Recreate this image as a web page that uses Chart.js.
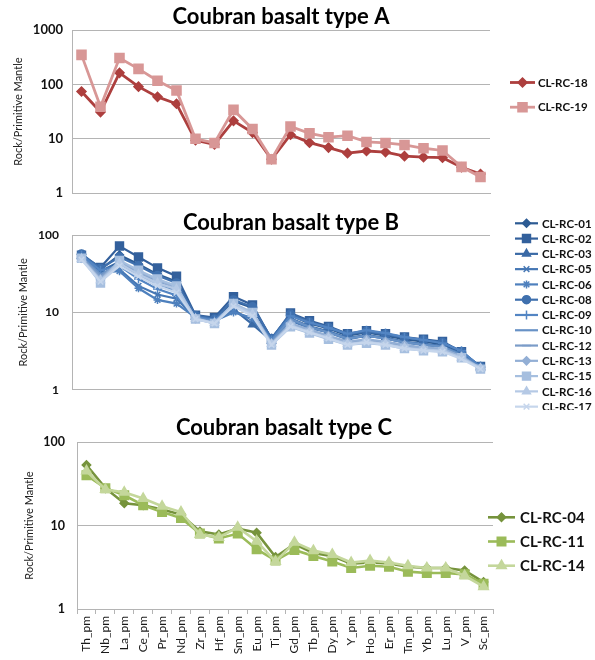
<!DOCTYPE html>
<html>
<head>
<meta charset="utf-8">
<script src="https://cdn.jsdelivr.net/npm/chart.js@4/dist/chart.umd.min.js"></script>
<style>
  html, body { margin: 0; padding: 0; background: #ffffff; }
  #wrap { position: relative; width: 595px; height: 660px; overflow: hidden; background: #ffffff; }
  canvas { position: absolute; left: 0; }
</style>
</head>
<body>
<div id="wrap">
  <canvas id="chartA" width="595" height="210" style="top:0px;width:595px;height:210px"></canvas>
  <canvas id="chartB" width="595" height="200" style="top:210px;width:595px;height:200px"></canvas>
  <canvas id="chartC" width="595" height="250" style="top:410px;width:595px;height:250px"></canvas>
</div>
<script>
// Primitive-mantle normalised trace elements (x axis categories)
const elements = ['Th_pm','Nb_pm','La_pm','Ce_pm','Pr_pm','Nd_pm','Zr_pm','Hf_pm','Sm_pm','Eu_pm','Ti_pm',
                  'Gd_pm','Tb_pm','Dy_pm','Y_pm','Ho_pm','Er_pm','Tm_pm','Yb_pm','Lu_pm','V_pm','Sc_pm'];

// Decade ticks for the log axes
const ticksA = [1, 10, 100, 1000];
const ticksBC = [1, 10, 100];

// Type A samples
const rc18 = [74, 31, 163, 91, 59, 44, 9.4, 7.9, 21.4, 13, 4.2, 11.9, 8.5, 6.9, 5.45, 5.97, 5.7, 4.8, 4.6, 4.5, 3.0, 2.25];
const rc19 = [349, 38.7, 306, 193, 117, 77, 10, 8.4, 34, 15.2, 4.2, 16.9, 12.6, 10.7, 11.4, 8.75, 8.4, 7.7, 6.7, 6.1, 3.05, 1.98];

// Type B samples
const rc01 = [56, 36, 55, 42, 31, 25, 9.0, 8.3, 14, 11.5, 4.6, 9.2, 7.2, 6.2, 5.0, 5.5, 5.0, 4.5, 4.2, 3.9, 3.0, 1.95];
const rc02 = [55, 38, 72, 52, 37.6, 29.4, 9.2, 8.6, 16, 12.5, 4.5, 9.8, 7.8, 6.6, 5.3, 5.8, 5.3, 4.8, 4.5, 4.2, 3.1, 2.0];
const rc03 = [54, 34, 45, 34, 25, 20, 8.8, 7.9, 11, 7.0, 4.3, 8.4, 6.6, 5.7, 4.7, 5.1, 4.7, 4.2, 3.9, 3.7, 2.9, 1.95];
const rc05 = [52, 32, 36, 22, 17, 15, 8.5, 7.7, 10.5, 8.0, 4.2, 7.8, 6.3, 5.5, 4.5, 5.0, 4.6, 4.1, 3.8, 3.6, 2.8, 1.9];
const rc06 = [53, 33, 34, 20.5, 14.5, 13, 8.6, 7.8, 10, 8.5, 4.3, 8.0, 6.4, 5.6, 4.6, 5.0, 4.6, 4.1, 3.9, 3.6, 2.9, 1.95];
const rc08 = [57, 37, 52, 40, 30, 24, 9.1, 8.2, 14.5, 11.8, 4.6, 9.5, 7.5, 6.4, 5.2, 5.7, 5.2, 4.7, 4.4, 4.1, 3.1, 2.0];
const rc09 = [55, 35, 40, 27, 20, 16.5, 8.7, 8.0, 12, 9.5, 4.4, 9.0, 7.4, 6.3, 5.3, 5.9, 5.4, 4.8, 4.4, 4.0, 3.2, 1.95];
const rc10 = [52, 31, 42, 30, 22, 19, 8.6, 7.6, 12.5, 9.5, 4.2, 8.2, 6.5, 5.5, 4.6, 5.0, 4.6, 4.1, 3.8, 3.6, 2.8, 1.9];
const rc12 = [51, 29, 44, 33, 24, 20, 8.4, 7.4, 12, 9.2, 4.0, 7.0, 5.8, 4.8, 4.1, 4.4, 4.1, 3.7, 3.4, 3.3, 2.7, 1.9];
const rc13 = [50, 27, 46, 34, 26, 21, 8.3, 7.3, 13, 9.8, 4.0, 7.2, 6.0, 5.0, 4.2, 4.5, 4.2, 3.8, 3.5, 3.4, 2.7, 1.9];
const rc15 = [50, 24, 47, 35, 27, 22, 8.2, 7.2, 13, 10, 3.8, 6.5, 5.4, 4.5, 3.8, 4.0, 3.8, 3.4, 3.2, 3.1, 2.6, 1.85];
const rc16 = [49, 26, 43, 31, 24, 20, 8.3, 7.3, 12.5, 9.5, 3.9, 6.8, 5.6, 4.7, 3.9, 4.2, 3.9, 3.5, 3.3, 3.2, 2.6, 1.9];
const rc17 = [48, 25, 40, 29, 22, 18, 8.2, 7.2, 12, 9.0, 3.8, 6.6, 5.5, 4.6, 3.8, 4.1, 3.8, 3.4, 3.2, 3.1, 2.5, 1.85];

// Type C samples
const rc04 = [53, 28, 18.5, 17.5, 15.5, 13.5, 8.5, 7.8, 9.2, 8.2, 4.2, 6.0, 4.7, 4.3, 3.5, 3.6, 3.5, 3.2, 3.1, 3.1, 2.9, 2.1];
const rc11 = [40, 28, 23, 17.5, 14.5, 12.3, 8.0, 7.0, 8.0, 5.2, 3.8, 5.1, 4.3, 3.7, 3.1, 3.3, 3.2, 2.8, 2.7, 2.7, 2.6, 2.0];
const rc14 = [45, 27, 25, 21, 17, 14.5, 7.8, 7.2, 9.5, 6.5, 3.7, 6.3, 5.0, 4.5, 3.6, 3.8, 3.6, 3.3, 3.1, 3.1, 2.5, 1.85];

const FONT = "Lato, 'Liberation Sans', sans-serif";
const GRID = '#b4b4b4';

// Title and legend (line + marker + label) drawn at fixed spots beside each panel
const panelDecor = {
  id: 'panelDecor',
  afterDraw(chart, args, o) {
    const ctx = chart.ctx;
    ctx.save();
    ctx.fillStyle = '#000';
    ctx.font = `bold ${o.titleSize}px ${FONT}`;
    ctx.textAlign = 'center';
    ctx.textBaseline = 'middle';
    ctx.fillText(o.title, o.titleX, o.titleY);

    chart.data.datasets.forEach((ds, i) => {
      const y = o.legendY + i * o.legendGap;
      ctx.strokeStyle = ds.borderColor;
      ctx.lineWidth = ds.borderWidth;
      ctx.beginPath();
      ctx.moveTo(o.lineX0, y);
      ctx.lineTo(o.lineX1, y);
      ctx.stroke();
      if (ds.pointStyle && ds.pointRadius > 0) {
        ctx.fillStyle = ds.pointBackgroundColor;
        ctx.strokeStyle = ds.pointBorderColor;
        ctx.lineWidth = ds.pointBorderWidth;
        Chart.helpers.drawPoint(ctx, {
          pointStyle: ds.pointStyle, radius: ds.pointRadius, rotation: 0, borderWidth: ds.pointBorderWidth
        }, (o.lineX0 + o.lineX1) / 2, y);
      }
      ctx.fillStyle = '#111';
      ctx.font = `bold ${o.legendSize}px ${FONT}`;
      ctx.textAlign = 'left';
      ctx.textBaseline = 'middle';
      ctx.fillText(ds.label, o.textX, y + 0.5);
    });
    ctx.restore();
  }
};

function series(label, data, color, style, radius, width) {
  return {
    label, data,
    borderColor: color, backgroundColor: color,
    pointBackgroundColor: color, pointBorderColor: color,
    pointStyle: style, pointRadius: style ? radius : 0,
    pointBorderWidth: 1.5, pointHoverRadius: radius,
    borderWidth: width, tension: 0
  };
}

function makeChart(id, datasets, c) {
  // later samples sit on top of earlier ones
  datasets.forEach((d, i) => { d.order = datasets.length - i; });
  return new Chart(document.getElementById(id), {
    type: 'line',
    data: { labels: elements, datasets },
    plugins: [panelDecor],
    options: {
      responsive: false,
      animation: false,
      devicePixelRatio: 1,
      layout: { padding: { top: c.top, right: c.right, bottom: 0, left: 0 } },
      plugins: {
        legend: { display: false },
        tooltip: { enabled: false },
        panelDecor: c.decor
      },
      scales: {
        x: {
          offset: true,
          afterFit: s => { s.height = c.xHeight; },
          grid: { display: c.xLabels, drawOnChartArea: false, offset: true, tickLength: 5, color: GRID },
          border: { display: true, color: GRID },
          ticks: {
            display: c.xLabels, autoSkip: false, minRotation: 90, maxRotation: 90, padding: 2,
            color: '#1a1a1a', font: { family: FONT, size: 12 }
          }
        },
        y: {
          type: 'logarithmic',
          min: 1, max: c.yTicks[c.yTicks.length - 1],
          afterBuildTicks: s => { s.ticks = c.yTicks.map(v => ({ value: v })); },
          afterFit: s => { s.width = c.left; },
          grid: { color: GRID, lineWidth: 1, drawTicks: false },
          border: { display: true, color: GRID },
          ticks: {
            padding: c.tickPad, color: '#111',
            font: { family: FONT, size: c.tickSize, weight: 'bold' },
            callback: v => String(v)
          },
          title: {
            display: true, text: 'Rock/Primitive Mantle', color: '#222',
            font: { family: FONT, size: 11 },
            padding: { top: c.yTitlePad, bottom: 0 }
          }
        }
      }
    }
  });
}

makeChart('chartA', [
  series('CL-RC-18', rc18, '#ad3f3e', 'rectRot', 4.5, 2.8),
  series('CL-RC-19', rc19, '#d89796', 'rect', 6.4, 2.8)
], {
  top: 30, right: 105, left: 72, xHeight: 5, xLabels: false,
  yTicks: ticksA, tickPad: 9, tickSize: 13, yTitlePad: 11.5,
  decor: { title: 'Coubran basalt type A', titleSize: 22, titleX: 281, titleY: 17,
           legendY: 82.5, legendGap: 24.7, lineX0: 510, lineX1: 535, textX: 538, legendSize: 11.5 }
});

makeChart('chartB', [
  series('CL-RC-01', rc01, '#2c5b93', 'rectRot', 4, 2.2),
  series('CL-RC-02', rc02, '#33609c', 'rect', 5.6, 2.2),
  series('CL-RC-03', rc03, '#3a6aa6', 'triangle', 4.5, 2.2),
  series('CL-RC-05', rc05, '#4677b4', 'crossRot', 4, 2.2),
  series('CL-RC-06', rc06, '#4e80bd', 'star', 4, 2.2),
  series('CL-RC-08', rc08, '#3f70ae', 'circle', 4, 2.2),
  series('CL-RC-09', rc09, '#5385c3', 'cross', 4.5, 2.2),
  series('CL-RC-10', rc10, '#6892c6', false, 0, 2.2),
  series('CL-RC-12', rc12, '#7b9cc8', 'line', 4.5, 2.2),
  series('CL-RC-13', rc13, '#93afd5', 'rectRot', 4, 2.2),
  series('CL-RC-15', rc15, '#a6bfdf', 'rect', 5.6, 2.2),
  series('CL-RC-16', rc16, '#b5c9e5', 'triangle', 4.5, 2.2),
  series('CL-RC-17', rc17, '#c6d6ec', 'crossRot', 4, 2.2)
], {
  top: 25, right: 105, left: 72, xHeight: 6, xLabels: false,
  yTicks: ticksBC, tickPad: 13, tickSize: 12, yTitlePad: 16.5,
  decor: { title: 'Coubran basalt type B', titleSize: 22, titleX: 291, titleY: 13,
           legendY: 13.3, legendGap: 15.28, lineX0: 515, lineX1: 538, textX: 542, legendSize: 11.5 }
});

makeChart('chartC', [
  series('CL-RC-04', rc04, '#76933c', 'rectRot', 4.2, 2.6),
  series('CL-RC-11', rc11, '#9bbb59', 'rect', 6, 2.6),
  series('CL-RC-14', rc14, '#c4d79b', 'triangle', 5.5, 2.6)
], {
  top: 32, right: 102, left: 77, xHeight: 51, xLabels: true,
  yTicks: ticksBC, tickPad: 12, tickSize: 12.5, yTitlePad: 22.5,
  decor: { title: 'Coubran basalt type C', titleSize: 22, titleX: 284, titleY: 18,
           legendY: 107.3, legendGap: 24.2, lineX0: 488, lineX1: 515, textX: 520, legendSize: 15 }
});
</script>
</body>
</html>
